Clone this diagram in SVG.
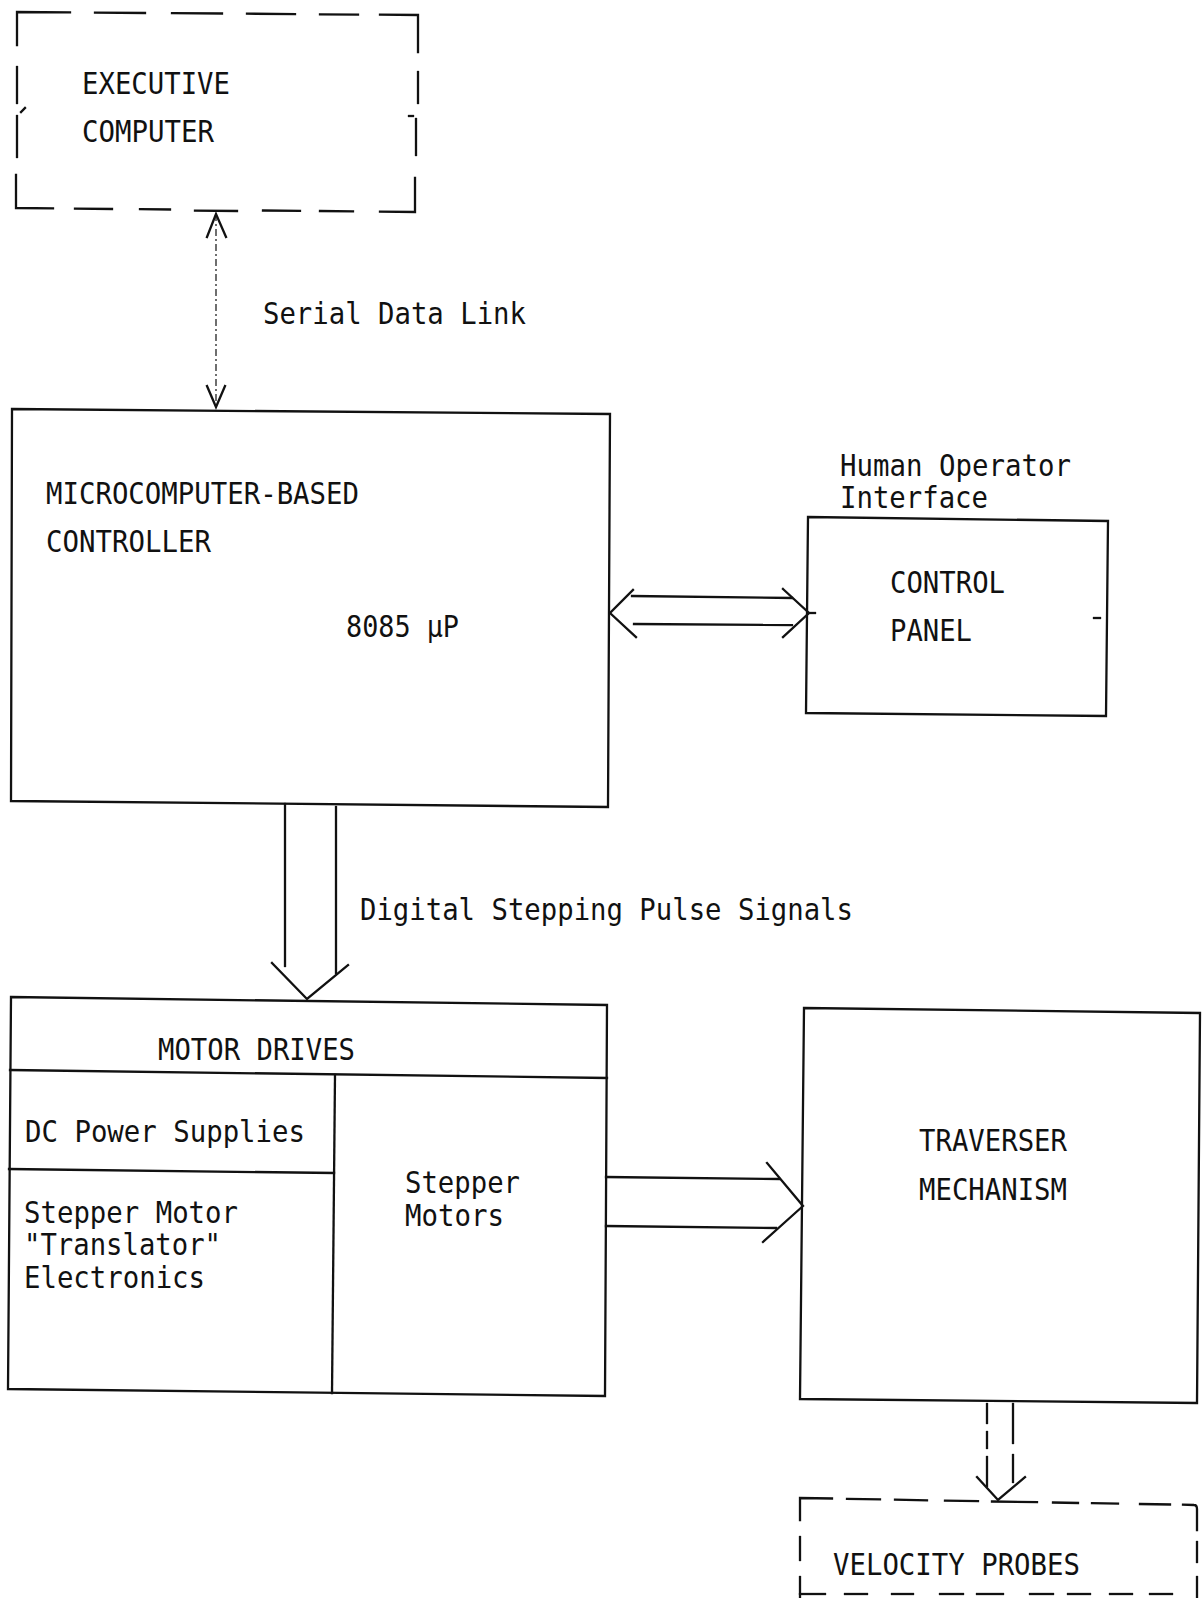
<svg xmlns="http://www.w3.org/2000/svg" width="1202" height="1598" viewBox="0 0 1202 1598">
  <style>
    .ln { fill: none; stroke: #111; stroke-width: 2.3; stroke-linecap: square; stroke-linejoin: miter; }
    .thin { fill: none; stroke: #222; stroke-width: 1.3; stroke-dasharray: 7 3 2 3; }
    .lbl { font-family: "DejaVu Sans Mono", "Liberation Mono", monospace; font-size: 29.5px; fill: #111; }
  </style>
  <rect width="1202" height="1598" fill="#ffffff"/>

  <!-- Executive computer: dashed outline drawn dash by dash -->
  <g id="executive-computer">
    <path class="ln" d="M17,45 L17,12 L70,12.4"/>
    <path class="ln" d="M95,12.6 L145,13"/>
    <path class="ln" d="M172,13.2 L222,13.5"/>
    <path class="ln" d="M247,13.7 L295,14.1"/>
    <path class="ln" d="M320,14.3 L358,14.6"/>
    <path class="ln" d="M380,14.7 L418,15 L418,52"/>
    <path class="ln" d="M17,67 L17,103"/>
    <path class="ln" d="M21,112 L25,108"/>
    <path class="ln" d="M17,116 L17,157"/>
    <path class="ln" d="M16,175 L16,208 L53,208.4"/>
    <path class="ln" d="M75,208.6 L112,209"/>
    <path class="ln" d="M140,209.2 L170,209.5"/>
    <path class="ln" d="M195,210.6 L237,211"/>
    <path class="ln" d="M263,210.5 L300,210.8"/>
    <path class="ln" d="M320,211 L353,211.3"/>
    <path class="ln" d="M380,211.7 L415,212 L415,178"/>
    <path class="ln" d="M418,72 L418,103"/>
    <path class="ln" d="M409,116 L413,116"/>
    <path class="ln" d="M416,119 L416,155"/>
    <text class="lbl" x="82" y="94" textLength="148" lengthAdjust="spacingAndGlyphs">EXECUTIVE</text>
    <text class="lbl" x="82" y="142" textLength="132" lengthAdjust="spacingAndGlyphs">COMPUTER</text>
  </g>

  <!-- Microcomputer-based controller -->
  <g id="microcomputer-controller">
    <polygon class="ln" points="12,409 610,414 608,807 11,801"/>
    <text class="lbl" x="46" y="504" textLength="313" lengthAdjust="spacingAndGlyphs">MICROCOMPUTER-BASED</text>
    <text class="lbl" x="46" y="552" textLength="165" lengthAdjust="spacingAndGlyphs">CONTROLLER</text>
    <text class="lbl" x="346" y="637" textLength="113" lengthAdjust="spacingAndGlyphs">8085 µP</text>
  </g>

  <!-- Control panel (human operator interface) -->
  <g id="control-panel">
    <polygon class="ln" points="808,517 1108,521 1106,716 806,713"/>
    <path class="ln" d="M1094,618 L1100,618"/>
    <text class="lbl" x="840" y="476" textLength="231" lengthAdjust="spacingAndGlyphs">Human Operator</text>
    <text class="lbl" x="840" y="508" textLength="148" lengthAdjust="spacingAndGlyphs">Interface</text>
    <text class="lbl" x="890" y="593" textLength="115" lengthAdjust="spacingAndGlyphs">CONTROL</text>
    <text class="lbl" x="890" y="641" textLength="82" lengthAdjust="spacingAndGlyphs">PANEL</text>
  </g>

  <!-- Motor drives with its sub-compartments -->
  <g id="motor-drives">
    <polygon class="ln" points="11,997 607,1005 605,1396 8,1389"/>
    <path class="ln" d="M10,1070 L607,1078"/>
    <path class="ln" d="M335,1075 L332,1393"/>
    <path class="ln" d="M9,1169 L334,1173"/>
    <text class="lbl" x="158" y="1060" textLength="197" lengthAdjust="spacingAndGlyphs">MOTOR DRIVES</text>
    <text class="lbl" x="25" y="1142" textLength="280" lengthAdjust="spacingAndGlyphs">DC Power Supplies</text>
    <text class="lbl" x="24" y="1223" textLength="214" lengthAdjust="spacingAndGlyphs">Stepper Motor</text>
    <text class="lbl" x="24" y="1255" textLength="197" lengthAdjust="spacingAndGlyphs">"Translator"</text>
    <text class="lbl" x="24" y="1288" textLength="181" lengthAdjust="spacingAndGlyphs">Electronics</text>
    <text class="lbl" x="405" y="1193" textLength="115" lengthAdjust="spacingAndGlyphs">Stepper</text>
    <text class="lbl" x="405" y="1226" textLength="99" lengthAdjust="spacingAndGlyphs">Motors</text>
  </g>

  <!-- Traverser mechanism -->
  <g id="traverser-mechanism">
    <polygon class="ln" points="804,1008 1200,1013 1197,1403 800,1399"/>
    <text class="lbl" x="919" y="1151" textLength="148" lengthAdjust="spacingAndGlyphs">TRAVERSER</text>
    <text class="lbl" x="919" y="1200" textLength="148" lengthAdjust="spacingAndGlyphs">MECHANISM</text>
  </g>

  <!-- Velocity probes: dashed outline -->
  <g id="velocity-probes">
    <path class="ln" d="M800,1520 L800,1498 L832,1498.5"/>
    <path class="ln" d="M847,1498.8 L880,1499.4"/>
    <path class="ln" d="M895,1499.7 L927,1500.3"/>
    <path class="ln" d="M945,1500.6 L978,1501.2"/>
    <path class="ln" d="M992,1501.5 L1037,1502.2"/>
    <path class="ln" d="M1053,1502.5 L1078,1503"/>
    <path class="ln" d="M1092,1503.2 L1118,1503.6"/>
    <path class="ln" d="M1140,1504 L1170,1504.5"/>
    <path class="ln" d="M1183,1504.7 L1194,1505 Q1197,1505 1197,1509 L1197,1530"/>
    <path class="ln" d="M800,1537 L800,1560"/>
    <path class="ln" d="M800,1577 L800,1598"/>
    <path class="ln" d="M1197,1542 L1197,1562"/>
    <path class="ln" d="M1197,1577 L1197,1598"/>
    <path class="ln" d="M800,1594 L825,1594"/>
    <path class="ln" d="M845,1594 L867,1594"/>
    <path class="ln" d="M892,1594 L913,1594"/>
    <path class="ln" d="M940,1594 L963,1594"/>
    <path class="ln" d="M977,1594 L1003,1594"/>
    <path class="ln" d="M1030,1594 L1053,1594"/>
    <path class="ln" d="M1068,1594 L1090,1594"/>
    <path class="ln" d="M1110,1594 L1132,1594"/>
    <path class="ln" d="M1150,1594 L1172,1594"/>
    <text class="lbl" x="833" y="1575" textLength="247" lengthAdjust="spacingAndGlyphs">VELOCITY PROBES</text>
  </g>

  <!-- Connectors -->
  <g id="connectors">
    <!-- serial data link, executive computer <-> controller -->
    <path class="thin" d="M216,214 L216,407"/>
    <path class="ln" d="M207,237 L216,214 L226,237"/>
    <path class="ln" d="M207,386 L216,407 L225,386"/>
    <text class="lbl" x="263" y="324" textLength="263" lengthAdjust="spacingAndGlyphs">Serial Data Link</text>

    <!-- controller <-> control panel, wide two-way arrow -->
    <path class="ln" d="M632,596 L792,598"/>
    <path class="ln" d="M634,624 L792,625"/>
    <path class="ln" d="M633,590 L610,613 L636,637"/>
    <path class="ln" d="M783,589 L809,613 L783,637"/>
    <path class="ln" d="M809,613 L815,613"/>

    <!-- controller -> motor drives -->
    <path class="ln" d="M285,804 L285,966"/>
    <path class="ln" d="M336,807 L336,973"/>
    <path class="ln" d="M272,963 L307,999 L348,965"/>
    <text class="lbl" x="360" y="920" textLength="493" lengthAdjust="spacingAndGlyphs">Digital Stepping Pulse Signals</text>

    <!-- stepper motors -> traverser -->
    <path class="ln" d="M606,1177 L779,1179"/>
    <path class="ln" d="M606,1226 L776,1228"/>
    <path class="ln" d="M767,1163 L803,1206 L763,1242"/>

    <!-- traverser -> velocity probes, dashed -->
    <path class="ln" d="M987,1404 L987,1423"/>
    <path class="ln" d="M987,1432 L987,1448"/>
    <path class="ln" d="M987,1457 L987,1486"/>
    <path class="ln" d="M1013,1404 L1013,1443"/>
    <path class="ln" d="M1013,1455 L1013,1482"/>
    <path class="ln" d="M977,1477 L998,1500 L1025,1477"/>
  </g>
</svg>
